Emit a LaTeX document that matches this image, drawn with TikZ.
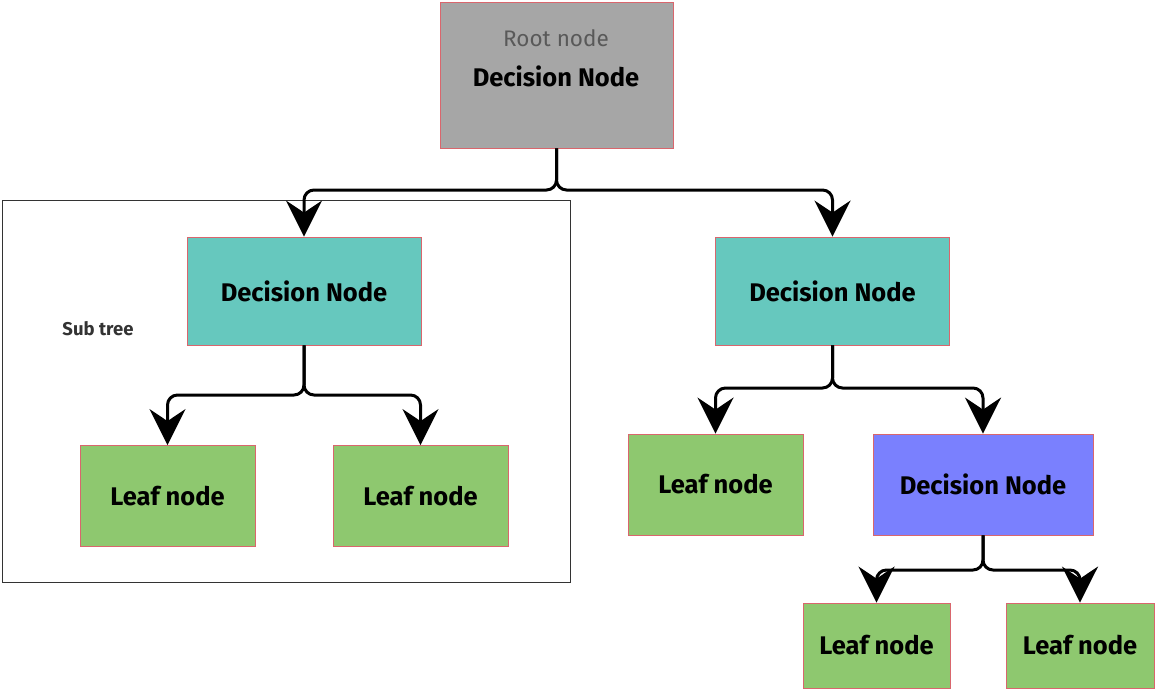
\documentclass[tikz,border=0pt]{standalone}
\usepackage{fontspec}
\setmainfont{Fira Sans}
\usetikzlibrary{arrows.meta}
\definecolor{rootgray}{HTML}{A6A6A6}
\definecolor{teal}{HTML}{66C8BE}
\definecolor{leafgreen}{HTML}{8EC86F}
\definecolor{purp}{HTML}{7A80FE}
\definecolor{edge}{HTML}{D9666D}
\tikzset{
  box/.style={draw=edge, line width=0.8pt, inner sep=0pt, font=\fontsize{25.5}{28}\selectfont\bfseries},
  decnode/.style={box, fill=teal, minimum width=234pt, minimum height=108pt},
  leafnode/.style={box, fill=leafgreen, minimum width=175pt, minimum height=101pt},
  conn/.style={line width=3pt, rounded corners=10pt, -{Stealth[length=36pt,width=36pt,inset=12pt]}},
}
\begin{document}
\begin{tikzpicture}[x=1pt,y=1pt]
\useasboundingbox (0,0) rectangle (1156,-693);
% subtree frame
\node[draw=black!80, line width=1pt, minimum width=568pt, minimum height=382pt, inner sep=0pt] (frame) at (286,-391) {};
\node[font=\fontsize{18.5}{20}\selectfont\bfseries, text=black!80] (subtree) at (98,-329) {Sub tree};
% root
\node[draw=edge, line width=0.8pt, fill=rootgray, minimum width=233pt, minimum height=146pt, inner sep=0pt] (root) at (556.5,-75) {};
\node[font=\fontsize{22.5}{24}\selectfont, text=black!65] (rootlbl) at (556,-38) {Root node};
\node[font=\fontsize{25.5}{28}\selectfont\bfseries] (roottxt) at (556,-76) {Decision Node};
% level 1
\node[decnode] (dnL) at (304,-291) {Decision Node};
\node[decnode] (dnR) at (832.5,-291) {Decision Node};
% level 2
\node[leafnode] (lf1) at (167.5,-496) {Leaf node};
\node[leafnode] (lf2) at (420.5,-496) {Leaf node};
\node[leafnode] (lf3) at (715.5,-484.5) {Leaf node};
\node[box, fill=purp, minimum width=220pt, minimum height=101pt] (dnP) at (983,-484.5) {Decision Node};
% level 3
\node[leafnode, minimum width=147pt, minimum height=85pt] (lf4) at (876.5,-645.5) {Leaf node};
\node[leafnode, minimum width=148pt, minimum height=85pt] (lf5) at (1080,-645.5) {Leaf node};
% junctions
\coordinate (j0) at (556.5,-190);
\coordinate (j1) at (304,-395);
\coordinate (j2) at (832.5,-388);
\coordinate (j3) at (983,-570);
% connectors
\draw[conn] (root.south) -- (j0) -| (dnL.north);
\draw[conn] (root.south) -- (j0) -| (dnR.north);
\draw[conn] (dnL.south) -- (j1) -| (lf1.north);
\draw[conn] (dnL.south) -- (j1) -| (lf2.north);
\draw[conn] (dnR.south) -- (j2) -| (lf3.north);
\draw[conn] (dnR.south) -- (j2) -| (dnP.north);
\draw[conn] (dnP.south) -- (j3) -| (lf4.north);
\draw[conn] (dnP.south) -- (j3) -| (lf5.north);
\end{tikzpicture}
\end{document}
